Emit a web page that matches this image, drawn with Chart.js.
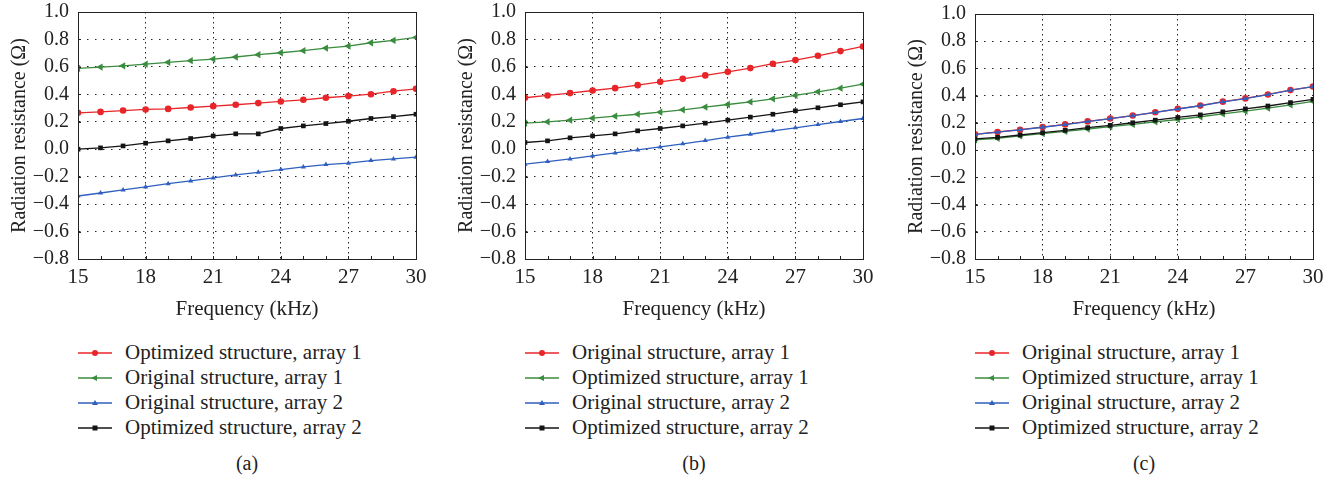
<!DOCTYPE html>
<html>
<head>
<meta charset="utf-8">
<script src="https://cdn.jsdelivr.net/npm/chart.js@4.4.0/dist/chart.umd.min.js"></script>
<style>
    body { margin: 0; background: #fff; font-family: "Liberation Serif", serif; color: #222; }
    #page { position: relative; width: 1338px; height: 485px; overflow: hidden; }
    .panel { position: absolute; top: 0; }
    .legend { position: absolute; top: 340px; font-size: 21px; line-height: 25px; white-space: nowrap; }
    .legend div { display: flex; align-items: center; height: 25px; }
    .legend svg { margin-right: 13px; }
    .caption { position: absolute; top: 452px; font-size: 20px; width: 60px; margin-left: -30px; text-align: center; }
</style>
</head>
<body>
<div id="page"></div>
<script>
// frequency axis (kHz)
const freqKHz = [15, 16, 17, 18, 19, 20, 21, 22, 23, 24, 25, 26, 27, 28, 29, 30]
const yMin = -0.8
const yMax = 1.0
const yStep = 0.2
const xStep = 3

// panel (a)
const aOptimized1 = [0.265, 0.272, 0.282, 0.290, 0.294, 0.304, 0.314, 0.324, 0.336, 0.348, 0.360, 0.375, 0.387, 0.401, 0.423, 0.440]
const aOriginal1  = [0.589, 0.599, 0.608, 0.620, 0.633, 0.645, 0.657, 0.672, 0.689, 0.703, 0.718, 0.737, 0.752, 0.776, 0.793, 0.815]
const aOriginal2  = [-0.341, -0.319, -0.297, -0.275, -0.251, -0.231, -0.209, -0.187, -0.168, -0.148, -0.129, -0.112, -0.102, -0.083, -0.071, -0.058]
const aOptimized2 = [0.000, 0.010, 0.024, 0.044, 0.061, 0.078, 0.097, 0.112, 0.112, 0.151, 0.170, 0.187, 0.204, 0.224, 0.238, 0.255]

// panel (b)
const bOriginal1  = [0.375, 0.392, 0.409, 0.428, 0.445, 0.467, 0.491, 0.513, 0.538, 0.564, 0.591, 0.623, 0.650, 0.681, 0.715, 0.749]
const bOptimized1 = [0.190, 0.200, 0.212, 0.226, 0.241, 0.255, 0.270, 0.287, 0.307, 0.326, 0.345, 0.367, 0.392, 0.418, 0.445, 0.474]
const bOriginal2  = [-0.109, -0.090, -0.071, -0.049, -0.027, -0.005, 0.017, 0.039, 0.063, 0.088, 0.109, 0.134, 0.156, 0.180, 0.202, 0.224]
const bOptimized2 = [0.049, 0.061, 0.083, 0.097, 0.112, 0.134, 0.151, 0.170, 0.190, 0.212, 0.234, 0.255, 0.280, 0.302, 0.324, 0.345]

// panel (c)
const cOriginal1  = [0.116, 0.133, 0.150, 0.169, 0.189, 0.211, 0.232, 0.254, 0.278, 0.303, 0.327, 0.356, 0.380, 0.409, 0.441, 0.467]
const cOptimized1 = [0.075, 0.087, 0.104, 0.121, 0.138, 0.155, 0.172, 0.189, 0.208, 0.225, 0.245, 0.266, 0.286, 0.308, 0.332, 0.358]
const cOriginal2  = [0.115, 0.132, 0.149, 0.168, 0.188, 0.210, 0.231, 0.253, 0.277, 0.302, 0.326, 0.355, 0.379, 0.408, 0.440, 0.466]
const cOptimized2 = [0.082, 0.094, 0.111, 0.128, 0.145, 0.165, 0.182, 0.201, 0.220, 0.240, 0.259, 0.281, 0.303, 0.324, 0.349, 0.373]

const yTitle = 'Radiation resistance (Ω)'
const xTitle = 'Frequency (kHz)'

const RED = '#e8262a'
const GREEN = '#3a8c3e'
const BLUE = '#2f5fbf'
const BLACK = '#151515'

const styles = {
    red:   { color: RED,   pointStyle: 'circle',   radius: 3.3, rotation: 0,   order: 3 },
    green: { color: GREEN, pointStyle: 'triangle', radius: 4.2, rotation: -90, order: 2 },
    blue:  { color: BLUE,  pointStyle: 'triangle', radius: 3,   rotation: 0,   order: 1 },
    black: { color: BLACK, pointStyle: 'rect',     radius: 3.3, rotation: 0,   order: 0 }
}

const panels = [
    {
        caption: '(a)', left: 0, plotTop: 12,
        series: [
            { label: 'Optimized structure, array 1', data: aOptimized1, style: 'red' },
            { label: 'Original structure, array 1',  data: aOriginal1,  style: 'green' },
            { label: 'Original structure, array 2',  data: aOriginal2,  style: 'blue' },
            { label: 'Optimized structure, array 2', data: aOptimized2, style: 'black' }
        ]
    },
    {
        caption: '(b)', left: 447, plotTop: 12,
        series: [
            { label: 'Original structure, array 1',  data: bOriginal1,  style: 'red' },
            { label: 'Optimized structure, array 1', data: bOptimized1, style: 'green' },
            { label: 'Original structure, array 2',  data: bOriginal2,  style: 'blue' },
            { label: 'Optimized structure, array 2', data: bOptimized2, style: 'black' }
        ]
    },
    {
        caption: '(c)', left: 897, plotTop: 14,
        series: [
            { label: 'Original structure, array 1',  data: cOriginal1,  style: 'red' },
            { label: 'Optimized structure, array 1', data: cOptimized1, style: 'green' },
            { label: 'Original structure, array 2',  data: cOriginal2,  style: 'blue' },
            { label: 'Optimized structure, array 2', data: cOptimized2, style: 'black' }
        ]
    }
]

const PANEL_W = 446
const PANEL_H = 325
const PAD_LEFT = 8
const Y_AXIS_W = 70
const PAD_RIGHT = 30
const X_AXIS_H = 63
const FONT = 'Liberation Serif'

// box round the plot plus small inward tick marks
const frame = {
    id: 'frame',
    afterDraw(chart) {
        const a = chart.chartArea
        const ctx = chart.ctx
        const xs = chart.scales.x
        const ys = chart.scales.y
        ctx.save()
        ctx.strokeStyle = '#222'
        ctx.lineWidth = 1
        ctx.beginPath()
        freqKHz.forEach(f => {
            const px = Math.round(xs.getPixelForValue(f)) + 0.5
            ctx.moveTo(px, a.bottom)
            ctx.lineTo(px, a.bottom - 3)
        })
        ys.ticks.forEach(t => {
            const py = Math.round(ys.getPixelForValue(t.value)) + 0.5
            ctx.moveTo(a.left, py)
            ctx.lineTo(a.left + 3, py)
        })
        ctx.stroke()
        ctx.strokeRect(Math.round(a.left) + 0.5, Math.round(a.top) + 0.5, Math.round(a.right - a.left), Math.round(a.bottom - a.top))
        ctx.restore()
    }
}

function fmtTick(v) {
    if (Math.abs(v) < 1e-9) v = 0
    return v.toFixed(1).replace('-', '\u2212')
}

function markerSvg(st) {
    const c = st.color
    let shape = ''
    if (st.pointStyle === 'circle') shape = `<circle cx="17" cy="6" r="3" fill="${c}"/>`
    else if (st.pointStyle === 'rect') shape = `<rect x="14.5" y="3.5" width="5" height="5" fill="${c}"/>`
    else if (st.rotation === -90) shape = `<polygon points="13,6 19,3 19,9" fill="${c}"/>`
    else shape = `<polygon points="17,3 20,8 14,8" fill="${c}"/>`
    return `<svg width="34" height="12"><line x1="0" y1="6" x2="34" y2="6" stroke="${c}" stroke-width="1.4"/>${shape}</svg>`
}

const page = document.getElementById('page')

panels.forEach(p => {
    const wrap = document.createElement('div')
    wrap.className = 'panel'
    wrap.style.left = p.left + 'px'
    const canvas = document.createElement('canvas')
    canvas.width = PANEL_W
    canvas.height = PANEL_H
    wrap.appendChild(canvas)
    page.appendChild(wrap)

    const datasets = p.series.map(s => {
        const st = styles[s.style]
        return {
            label: s.label,
            data: freqKHz.map((f, i) => ({ x: f, y: s.data[i] })),
            borderColor: st.color,
            backgroundColor: st.color,
            borderWidth: 1.3,
            pointStyle: st.pointStyle,
            pointRadius: st.radius,
            pointRotation: st.rotation,
            pointBorderWidth: 0,
            order: st.order,
            tension: 0
        }
    })

    new Chart(canvas.getContext('2d'), {
        type: 'line',
        data: { datasets: datasets },
        options: {
            responsive: false,
            animation: false,
            layout: { padding: { left: PAD_LEFT, right: PAD_RIGHT, top: p.plotTop, bottom: 3 } },
            plugins: { legend: { display: false }, tooltip: { enabled: false } },
            scales: {
                x: {
                    type: 'linear',
                    min: 15, max: 30,
                    afterFit: (scale) => { scale.height = X_AXIS_H; scale.paddingLeft = 0; scale.paddingRight = 0 },
                    ticks: { stepSize: xStep, color: '#222', padding: 6, font: { family: FONT, size: 21 } },
                    grid: { color: '#222', lineWidth: 1, drawTicks: false },
                    border: { color: '#222', dash: [1.5, 3.5] },
                    title: { display: true, text: xTitle, color: '#222', padding: 0, font: { family: FONT, size: 21 } }
                },
                y: {
                    min: yMin, max: yMax,
                    afterFit: (scale) => { scale.width = Y_AXIS_W; scale.paddingTop = 0; scale.paddingBottom = 0 },
                    ticks: { stepSize: yStep, color: '#222', padding: 9, callback: fmtTick, font: { family: FONT, size: 20 } },
                    grid: { color: '#222', lineWidth: 1, drawTicks: false },
                    border: { color: '#222', dash: [1.5, 6.5] },
                    title: { display: true, text: yTitle, color: '#222', padding: 0, font: { family: FONT, size: 20 } }
                }
            }
        },
        plugins: [frame]
    })

    const plotLeft = p.left + PAD_LEFT + Y_AXIS_W
    const plotRight = p.left + PANEL_W - PAD_RIGHT

    const legend = document.createElement('div')
    legend.className = 'legend'
    legend.style.left = plotLeft + 'px'
    p.series.forEach(s => {
        const row = document.createElement('div')
        row.innerHTML = markerSvg(styles[s.style]) + '<span>' + s.label + '</span>'
        legend.appendChild(row)
    })
    page.appendChild(legend)

    const cap = document.createElement('div')
    cap.className = 'caption'
    cap.style.left = ((plotLeft + plotRight) / 2) + 'px'
    cap.textContent = p.caption
    page.appendChild(cap)
})
</script>
</body>
</html>
